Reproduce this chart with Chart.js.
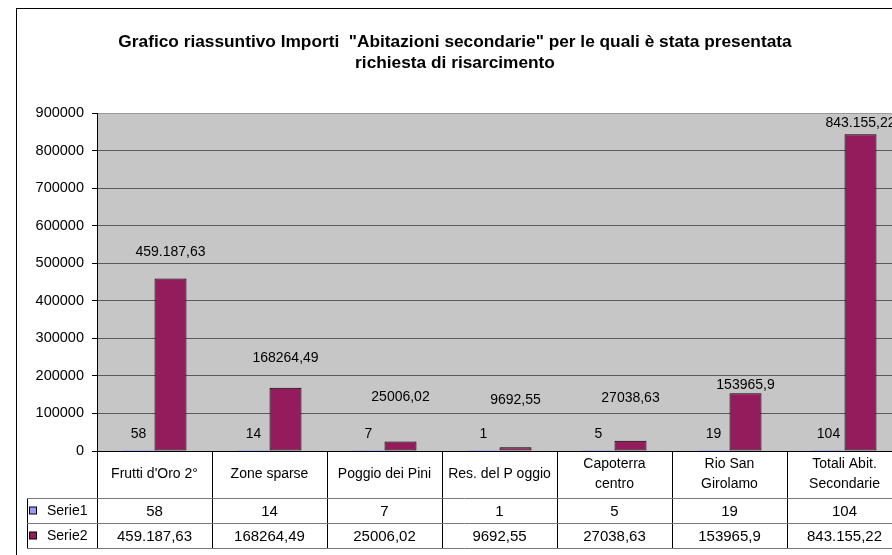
<!DOCTYPE html>
<html>
<head>
<meta charset="utf-8">
<script src="https://cdn.jsdelivr.net/npm/chart.js@4"></script>
<style>
  html, body { margin: 0; padding: 0; background: #fff; overflow: hidden; }
  #wrap { position: relative; width: 892px; height: 555px; overflow: hidden; }
  canvas { position: absolute; left: 0; top: 0; }
</style>
</head>
<body>
<div id="wrap"><canvas id="chart" width="940" height="555"></canvas></div>
<script>
const titleLines = ['Grafico riassuntivo Importi  "Abitazioni secondarie" per le quali è stata presentata', 'richiesta di risarcimento'];
const categories = [["Frutti d'Oro 2°"], ['Zone sparse'], ['Poggio dei Pini'], ['Res. del P oggio'], ['Capoterra', 'centro'], ['Rio San', 'Girolamo'], ['Totali Abit.', 'Secondarie']];
const serie1 = [58, 14, 7, 1, 5, 19, 104];
const serie2 = [459187.63, 168264.49, 25006.02, 9692.55, 27038.63, 153965.9, 843155.22];
const serie1Text = ['58', '14', '7', '1', '5', '19', '104'];
const serie2Text = ['459.187,63', '168264,49', '25006,02', '9692,55', '27038,63', '153965,9', '843.155,22'];
const yTicks = [0, 100000, 200000, 300000, 400000, 500000, 600000, 700000, 800000, 900000];

// label placement as in the original sheet (px above the bar top)
const serie2LabelLift = [26, 30, 44, 47, 43, 8, 11];
const serie1LabelLift = 17;

const FONT = '"Liberation Sans", Arial, sans-serif';
const colors = ['#9999ff', '#941b5c'];

const sheetPlugin = {
  id: 'sheet',
  beforeDraw(chart) {
    const {ctx, chartArea: a} = chart;
    ctx.save();
    ctx.fillStyle = '#c6c6c6';
    ctx.fillRect(a.left, a.top, a.right - a.left, a.bottom - a.top);
    ctx.restore();
  },
  afterDraw(chart) {
    const {ctx, chartArea: a} = chart;
    const x = chart.scales.x;
    const step = (a.right - a.left) / categories.length;
    ctx.save();

    // outer frame
    ctx.strokeStyle = '#000';
    ctx.lineWidth = 1;
    ctx.strokeRect(16.5, 8.5, 1000, 1000);

    // title
    ctx.fillStyle = '#000';
    ctx.font = 'bold 17.3px ' + FONT;
    ctx.textAlign = 'center';
    ctx.textBaseline = 'middle';
    titleLines.forEach((t, i) => ctx.fillText(t, 455, 42 + i * 21));

    // data labels
    ctx.font = '14px ' + FONT;
    const m1 = chart.getDatasetMeta(0), m2 = chart.getDatasetMeta(1);
    m1.data.forEach((bar, i) => ctx.fillText(serie1Text[i], bar.x, bar.y - serie1LabelLift));
    m2.data.forEach((bar, i) => ctx.fillText(serie2Text[i], bar.x, bar.y - serie2LabelLift[i]));

    // data table
    const rTop = a.bottom, r1 = a.bottom + 47, r2 = r1 + 25, r3 = r2 + 25;
    ctx.strokeStyle = '#000';
    ctx.beginPath();
    for (let i = 0; i <= categories.length; i++) {
      const bx = Math.round(a.left + i * step) + 0.5;
      ctx.moveTo(bx, rTop); ctx.lineTo(bx, r3);
    }
    ctx.moveTo(27.5, r1); ctx.lineTo(27.5, r3);
    ctx.stroke();
    ctx.strokeStyle = '#7a7a7a';
    ctx.beginPath();
    [r1, r2, r3].forEach(ry => { ctx.moveTo(27, ry + 0.5); ctx.lineTo(a.right, ry + 0.5); });
    ctx.stroke();

    ctx.fillStyle = '#000';
    categories.forEach((lines, i) => {
      const cx = x.getPixelForValue(i);
      const mid = (rTop + r1) / 2;
      ctx.font = '14px ' + FONT;
      lines.forEach((t, j) => ctx.fillText(t, cx, mid + (j - (lines.length - 1) / 2) * 20));
      ctx.font = '15px ' + FONT;
      ctx.fillText(serie1Text[i], cx, (r1 + r2) / 2 + 1);
      ctx.fillText(serie2Text[i], cx, (r2 + r3) / 2 + 1);
    });

    // legend keys
    ctx.textAlign = 'left';
    ctx.font = '14px ' + FONT;
    ['Serie1', 'Serie2'].forEach((name, k) => {
      const cy = (k === 0 ? (r1 + r2) / 2 : (r2 + r3) / 2);
      ctx.fillStyle = colors[k];
      ctx.fillRect(29.5, cy - 3.5, 7, 7);
      ctx.strokeStyle = '#000';
      ctx.strokeRect(29.5, cy - 3.5, 7, 7);
      ctx.fillStyle = '#000';
      ctx.fillText(name, 47, cy + 1);
    });
    ctx.restore();
  }
};

new Chart(document.getElementById('chart'), {
  type: 'bar',
  data: {
    labels: categories.map(c => c.join(' ')),
    datasets: [
      { label: 'Serie1', data: serie1, backgroundColor: colors[0], borderColor: '#000', borderWidth: 0 },
      { label: 'Serie2', data: serie2, backgroundColor: colors[1], borderColor: '#000', borderWidth: 1, borderSkipped: false }
    ]
  },
  options: {
    responsive: false,
    animation: false,
    devicePixelRatio: 1,
    layout: { padding: { top: 113, bottom: 104, left: 0, right: 38 } },
    datasets: { bar: { categoryPercentage: 0.5565, barPercentage: 1 } },
    plugins: { legend: { display: false }, tooltip: { enabled: false }, title: { display: false } },
    scales: {
      x: { display: false },
      y: {
        min: 0, max: 900000,
        afterFit(s) { s.width = 97; },
        afterBuildTicks(s) { s.ticks = yTicks.map(v => ({ value: v })); },
        ticks: { color: '#000', padding: 8, font: { family: FONT, size: 14.5 }, callback: v => String(v) },
        border: { display: true, color: '#000' },
        grid: {
          tickLength: 5,
          tickColor: '#000',
          color: c => c.tick && c.tick.value === 0 ? '#000' : (c.tick && c.tick.value === 900000 ? '#9a9a9a' : '#5a5a5a')
        }
      }
    }
  },
  plugins: [sheetPlugin]
});
</script>
</body>
</html>
